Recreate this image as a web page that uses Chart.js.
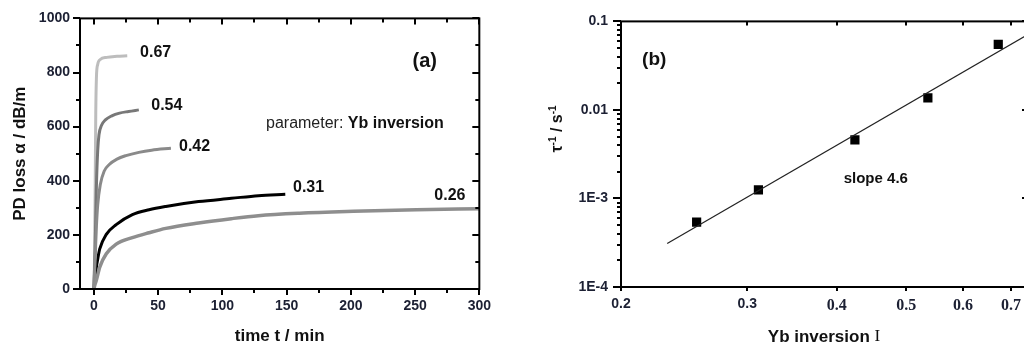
<!DOCTYPE html>
<html><head><meta charset="utf-8">
<script src="https://cdn.jsdelivr.net/npm/chart.js@4.4.1/dist/chart.umd.min.js"></script>
<style>
html,body{margin:0;padding:0;width:1024px;height:353px;overflow:hidden;background:#fff;}
#ca{position:absolute;left:0;top:0;}
#cb{position:absolute;left:530px;top:0;}
</style></head><body>
<canvas id="ca" width="500" height="353"></canvas>
<canvas id="cb" width="570" height="353"></canvas>
<script>
// ---------- Panel (a): PD loss vs time, parameter Yb inversion ----------
const t067 = [0, 0.5, 1, 1.5, 2, 3, 5, 10, 18, 26];
const v067 = [0, 100, 350, 650, 780, 830, 848, 856, 860, 862];
const t054 = [0, 1, 2, 3, 4, 6, 9, 14, 20, 27, 35];
const v054 = [0, 150, 380, 510, 570, 605, 625, 640, 650, 656, 662];
const t042 = [0, 1, 2, 3, 5, 8, 12, 18, 25, 35, 45, 60];
const v042 = [0, 110, 230, 310, 385, 435, 460, 480, 493, 505, 513, 520];
const t031 = [0, 1, 2, 3, 4.6, 9.7, 17.4, 30, 43, 56, 81.5, 107, 128, 149];
const v031 = [0, 40, 81, 110, 148, 202, 238, 275, 293, 305, 323, 335, 345, 350];
const t026 = [0, 1, 2, 4.6, 9.7, 17.4, 30, 43, 56, 81.5, 107, 128, 160, 202, 251, 300];
const v026 = [0, 18, 33, 81, 130, 166, 190, 208, 224, 244, 260, 271, 280, 287, 293, 297];
const seriesNamesA = ['0.67', '0.54', '0.42', '0.31', '0.26'];
const xTicksA = [0, 50, 100, 150, 200, 250, 300];
const xMinorA = [25, 75, 125, 175, 225, 275];
const yTicksA = [0, 200, 400, 600, 800, 1000];
const yMinorA = [100, 300, 500, 700, 900];

// ---------- Panel (b): decay rate vs Yb inversion ----------
const invB = [0.255, 0.311, 0.424, 0.536, 0.672];
const rateB = [5.4e-4, 1.25e-3, 4.6e-3, 1.37e-2, 5.5e-2];
const fitInvB = [0.232, 0.737];
const fitRateB = [3.1e-4, 0.070];
const xTicksB = [0.2, 0.3, 0.4, 0.5, 0.6, 0.7];
const xTickLabelsB = ['0.2', '0.3', '0.4', '0.5', '0.6', '0.7'];
const yTicksB = [1e-4, 1e-3, 1e-2, 1e-1];
const yTickLabelsB = ['1E-4', '1E-3', '0.01', '0.1'];
const yMinorB = [];
[-4, -3, -2].forEach(d => { for (let m = 2; m <= 9; m++) yMinorB.push(m * Math.pow(10, d)); });

const TICKCOL = '#1c2033';
const SANS = "'Liberation Sans', Arial, sans-serif";
const SERIF = "'Liberation Serif', 'Times New Roman', serif";

function drawParts(ctx, parts, x, y, center) {
  let total = 0;
  parts.forEach(p => { ctx.font = p.font; total += ctx.measureText(p.text).width; });
  let cx = center ? x - total / 2 : x;
  parts.forEach(p => {
    ctx.font = p.font;
    ctx.fillStyle = p.color || '#111';
    ctx.textAlign = 'left';
    ctx.fillText(p.text, cx, y - (p.raise || 0));
    cx += ctx.measureText(p.text).width;
  });
}

const deco = {
  id: 'deco',
  afterDraw(chart, args, opts) {
    const {ctx, chartArea: a} = chart;
    ctx.save();
    ctx.strokeStyle = '#000';
    ctx.lineWidth = 2;
    ctx.lineCap = 'butt';
    (opts.ticks || []).forEach(s => {
      const sc = chart.scales[s.axis];
      s.values.forEach(v => {
        const p = Math.round(sc.getPixelForValue(v));
        ctx.beginPath();
        if (s.edge === 'bottom') { ctx.moveTo(p, a.bottom); ctx.lineTo(p, a.bottom + s.len); }
        else if (s.edge === 'top') { ctx.moveTo(p, a.top); ctx.lineTo(p, a.top - s.len); }
        else if (s.edge === 'left') { ctx.moveTo(a.left, p); ctx.lineTo(a.left - s.len, p); }
        else { ctx.moveTo(a.right, p); ctx.lineTo(a.right + s.len, p); }
        ctx.stroke();
      });
    });
    ctx.strokeRect(a.left, a.top, a.right - a.left, a.bottom - a.top);
    ctx.textBaseline = 'middle';
    (opts.texts || []).forEach(t => {
      const x = chart.scales.x.getPixelForValue(t.x);
      const y = chart.scales.y.getPixelForValue(t.y);
      drawParts(ctx, t.parts, x, y, false);
    });
    if (opts.bottomTitle) {
      const b = opts.bottomTitle;
      drawParts(ctx, b.parts, (a.left + a.right) / 2, chart.height - b.dy, true);
    }
    if (opts.rotTitle) {
      const r = opts.rotTitle;
      const cx = a.left + r.dx, cy = a.top + r.fy * (a.bottom - a.top);
      ctx.translate(cx, cy);
      ctx.rotate(-Math.PI / 2);
      ctx.textBaseline = 'alphabetic';
      drawParts(ctx, r.parts, 0, 6, true);
    }
    ctx.restore();
  }
};

function pts(xs, ys) { return xs.map((x, i) => ({x: x, y: ys[i]})); }

const lineStyle = (col, w) => ({borderColor: col, backgroundColor: col, borderWidth: w, pointRadius: 0, cubicInterpolationMode: 'monotone', fill: false});

new Chart(document.getElementById('ca'), {
  type: 'line',
  data: {
    datasets: [
      Object.assign({label: seriesNamesA[4], data: pts(t026, v026)}, lineStyle('#8e8e8e', 3.5)),
      Object.assign({label: seriesNamesA[2], data: pts(t042, v042)}, lineStyle('#8a8a8a', 3)),
      Object.assign({label: seriesNamesA[1], data: pts(t054, v054)}, lineStyle('#787878', 3)),
      Object.assign({label: seriesNamesA[0], data: pts(t067, v067)}, lineStyle('#bdbdbd', 3)),
      Object.assign({label: seriesNamesA[3], data: pts(t031, v031)}, lineStyle('#000000', 3))
    ]
  },
  options: {
    responsive: false, animation: false, devicePixelRatio: 1,
    layout: {padding: {top: 14, right: 17, left: 0, bottom: 0}},
    plugins: {
      legend: {display: false}, tooltip: {enabled: false},
      deco: {
        ticks: [
          {axis: 'x', edge: 'bottom', values: xTicksA, len: 6},
          {axis: 'x', edge: 'bottom', values: xMinorA, len: 4},
          {axis: 'x', edge: 'top', values: xTicksA, len: -6},
          {axis: 'x', edge: 'top', values: xMinorA, len: -4},
          {axis: 'y', edge: 'left', values: yTicksA, len: 7},
          {axis: 'y', edge: 'left', values: yMinorA, len: 4},
          {axis: 'y', edge: 'right', values: yTicksA, len: -7},
          {axis: 'y', edge: 'right', values: yMinorA, len: -4}
        ],
        texts: [
          {x: 36, y: 874, parts: [{text: seriesNamesA[0], font: 'bold 16px ' + SANS}]},
          {x: 44.7, y: 678, parts: [{text: seriesNamesA[1], font: 'bold 16px ' + SANS}]},
          {x: 66.3, y: 527, parts: [{text: seriesNamesA[2], font: 'bold 16px ' + SANS}]},
          {x: 155, y: 374, parts: [{text: seriesNamesA[3], font: 'bold 16px ' + SANS}]},
          {x: 265, y: 347, parts: [{text: seriesNamesA[4], font: 'bold 16px ' + SANS}]},
          {x: 248, y: 842, parts: [{text: '(a)', font: 'bold 20px ' + SANS}]},
          {x: 134, y: 611, parts: [{text: 'parameter: ', font: '16px ' + SANS, color: '#222'}, {text: 'Yb inversion', font: 'bold 16px ' + SANS}]}
        ]
      }
    },
    scales: {
      x: {
        type: 'linear', min: -10.77, max: 300,
        afterBuildTicks: s => { s.ticks = xTicksA.map(v => ({value: v})); },
        afterFit: s => { s.height = 64; },
        grid: {display: false, drawTicks: false}, border: {display: false},
        ticks: {padding: 9, autoSkip: false, maxRotation: 0, color: TICKCOL, callback: (v, i) => String(xTicksA[i]), font: {family: SANS, size: 14, weight: 'bold'}},
        title: {display: true, text: 'time t / min', color: '#111', font: {family: SANS, size: 17, weight: 'bold'}, padding: {top: 0, bottom: 6}}
      },
      y: {
        type: 'linear', min: 0, max: 1000,
        afterBuildTicks: s => { s.ticks = yTicksA.map(v => ({value: v})); },
        afterFit: s => { s.width = 80; },
        grid: {display: false, drawTicks: false}, border: {display: false},
        ticks: {padding: 10, autoSkip: false, color: TICKCOL, callback: (v, i) => String(yTicksA[i]), font: {family: SANS, size: 14, weight: 'bold'}},
        title: {display: true, text: 'PD loss α / dB/m', color: '#111', font: {family: SANS, size: 17, weight: 'bold'}, padding: {top: 10, bottom: 0}}
      }
    }
  },
  plugins: [deco]
});

new Chart(document.getElementById('cb'), {
  type: 'scatter',
  data: {
    datasets: [
      {label: 'fit', data: pts(fitInvB, fitRateB), showLine: true, borderColor: '#222', borderWidth: 1.2, pointRadius: 0, fill: false},
      {label: 'rate', data: pts(invB, rateB), pointStyle: 'rect', pointRadius: 6.5, backgroundColor: '#000', borderColor: '#000', borderWidth: 0, showLine: false}
    ]
  },
  options: {
    responsive: false, animation: false, devicePixelRatio: 1,
    layout: {padding: {top: 11, right: 73, left: 0, bottom: 0}},
    plugins: {
      legend: {display: false}, tooltip: {enabled: false},
      deco: {
        ticks: [
          {axis: 'x', edge: 'bottom', values: xTicksB, len: 4},
          {axis: 'x', edge: 'top', values: xTicksB, len: -4},
          {axis: 'y', edge: 'left', values: yTicksB, len: 8},
          {axis: 'y', edge: 'left', values: yMinorB, len: 4},
          {axis: 'y', edge: 'right', values: yTicksB, len: -5}
        ],
        texts: [
          {x: 0.214, y: 0.0367, parts: [{text: '(b)', font: 'bold 19px ' + SANS}]},
          {x: 0.409, y: 1.65e-3, parts: [{text: 'slope 4.6', font: 'bold 15px ' + SANS}]}
        ],
        bottomTitle: {dy: 16, parts: [
          {text: 'Yb inversion ', font: 'bold 17px ' + SANS},
          {text: 'I', font: '17px ' + SERIF}
        ]},
        rotTitle: {dx: -65, fy: 0.405, parts: [
          {text: 'τ', font: 'bold 16px ' + SANS},
          {text: '-1', font: 'bold 10px ' + SANS, raise: 6},
          {text: ' / s', font: 'bold 16px ' + SANS},
          {text: '-1', font: 'bold 10px ' + SANS, raise: 6}
        ]}
      }
    },
    scales: {
      x: {
        type: 'logarithmic', min: 0.2, max: 0.737,
        afterBuildTicks: s => { s.ticks = xTicksB.map(v => ({value: v})); },
        afterFit: s => { s.height = 66; },
        grid: {display: false, drawTicks: false}, border: {display: false},
        ticks: {
          padding: 9, autoSkip: false, maxRotation: 0, color: TICKCOL,
          callback: (v, i) => xTickLabelsB[i],
          font: c => (c && c.tick && c.tick.value > 0.35) ? {family: SERIF, size: 16, weight: 'bold'} : {family: SANS, size: 14, weight: 'bold'}
        },
        title: {display: false}
      },
      y: {
        type: 'logarithmic', min: 1e-4, max: 0.1,
        afterBuildTicks: s => { s.ticks = yTicksB.map(v => ({value: v})); },
        afterFit: s => { s.width = 91; },
        grid: {display: false, drawTicks: false}, border: {display: false},
        ticks: {padding: 13, autoSkip: false, color: TICKCOL, callback: (v, i) => yTickLabelsB[i], font: {family: SANS, size: 14, weight: 'bold'}},
        title: {display: false}
      }
    }
  },
  plugins: [deco]
});
</script>
</body></html>
